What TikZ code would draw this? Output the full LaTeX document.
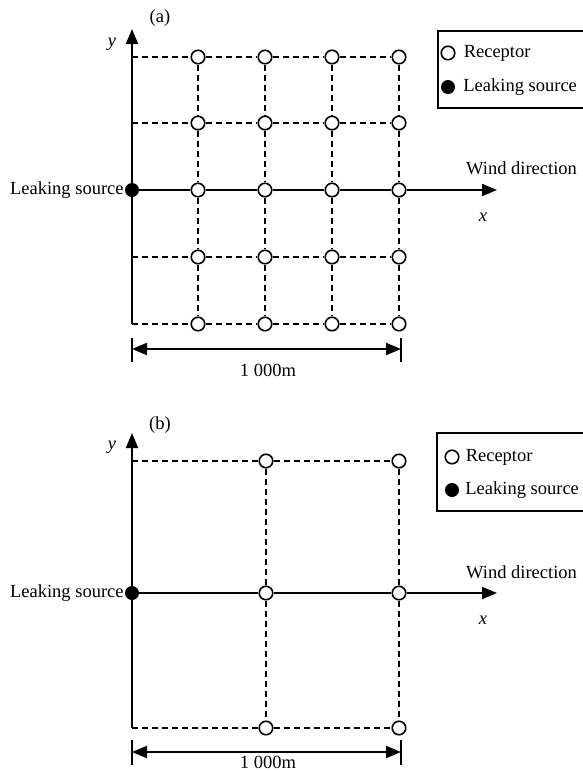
\documentclass[tikz,border=0pt]{standalone}
\usepackage{fontspec}
\setmainfont{Liberation Serif}
\usetikzlibrary{arrows.meta}
\usetikzlibrary{positioning}

\tikzset{
  receptor/.style={circle,draw,fill=white,line width=1.6pt,inner sep=0pt,minimum size=13.5pt},
  source/.style={circle,fill=black,inner sep=0pt,minimum size=14pt},
  axisline/.style={line width=2pt,-{Triangle[length=15pt,width=12pt]}},
  gridline/.style={line width=1.5pt,dash pattern=on 6pt off 4pt},
  dimline/.style={line width=2pt,{Triangle[length=15pt,width=12pt]}-{Triangle[length=15pt,width=12pt]}},
  txt/.style={inner sep=0pt},
}

\begin{document}
\begin{tikzpicture}[x=1pt,y=-1pt,font=\fontsize{18.5}{22}\selectfont]
      \useasboundingbox (0,0) rectangle (582,772);
      % panel (a)
      \node[txt] (laba) at (160,18) {(a)};
      \draw[axisline] (132,324) coordinate (oa) -- (132,29) coordinate (ya);
      \node[txt] (ylaba) at (112,44) {\textit{y}};
      \foreach \j/\yy in {1/57,2/123,3/190,4/257,5/324} {
        \coordinate (ax\j) at (132,\yy);
        \foreach \i/\xx in {1/198,2/265,3/332,4/399}
          \node[receptor] (a\i\j) at (\xx,\yy) {};
      }
      \node[source] (srca) at (ax3) {};
      \foreach \j in {1,2,4,5}
        \draw[gridline] (ax\j) -- (a1\j) -- (a2\j) -- (a3\j) -- (a4\j);
      \foreach \i in {1,...,4}
        \draw[gridline] (a\i1) -- (a\i2) -- (a\i3) -- (a\i4) -- (a\i5);
      \draw[axisline] (srca) -- (a13) -- (a23) -- (a33) -- (a43) -- (497,190) coordinate (wa);
      \node[txt,left=1pt of srca] (leaka) {Leaking source};
      \node[txt,anchor=west] (winda) at (466,168) {Wind direction};
      \node[txt] (xlaba) at (483,217) {\textit{x}};
      \draw[line width=2pt] (132,338) coordinate (tla) -- (132,362)
            (401,338) coordinate (tra) -- (401,362);
      \draw[dimline] (132,349) coordinate (dla) -- (401,349) coordinate (dra);
      \node[txt] (dima) at (268,370) {1 000m};
      % legend (a)
      \draw[line width=1.5pt] (438,31) rectangle (600,108);
      \node[receptor] (kra) at (448,53) {};
      \node[txt,right=8pt of kra] {Receptor};
      \node[source] (ksa) at (448,87) {};
      \node[txt,right=8pt of ksa] {Leaking source};

      % panel (b)
      \node[txt] (labb) at (160,425) {(b)};
      \draw[axisline] (132,728) coordinate (ob) -- (132,433) coordinate (yb);
      \node[txt] (ylabb) at (112,447) {\textit{y}};
      \foreach \j/\yy in {1/461,2/593,3/728} {
        \coordinate (bx\j) at (132,\yy);
        \foreach \i/\xx in {1/266,2/399}
          \node[receptor] (b\i\j) at (\xx,\yy) {};
      }
      \node[source] (srcb) at (bx2) {};
      \foreach \j in {1,3}
        \draw[gridline] (bx\j) -- (b1\j) -- (b2\j);
      \foreach \i in {1,2}
        \draw[gridline] (b\i1) -- (b\i2) -- (b\i3);
      \draw[axisline] (srcb) -- (b12) -- (b22) -- (497,593) coordinate (wb);
      \node[txt,left=1pt of srcb] (leakb) {Leaking source};
      \node[txt,anchor=west] (windb) at (466,572) {Wind direction};
      \node[txt] (xlabb) at (483,620) {\textit{x}};
      \draw[line width=2pt] (132,740) coordinate (tlb) -- (132,765)
            (401,740) coordinate (trb) -- (401,765);
      \draw[dimline] (132,752) coordinate (dlb) -- (401,752) coordinate (drb);
      \node[txt] (dimb) at (268,762) {1 000m};
      % legend (b)
      \draw[line width=1.5pt] (437,433) rectangle (600,511);
      \node[receptor] (krb) at (452,457) {};
      \node[txt,right=6pt of krb] {Receptor};
      \node[source] (ksb) at (452,490) {};
      \node[txt,right=6pt of ksb] {Leaking source};
\end{tikzpicture}
\end{document}
